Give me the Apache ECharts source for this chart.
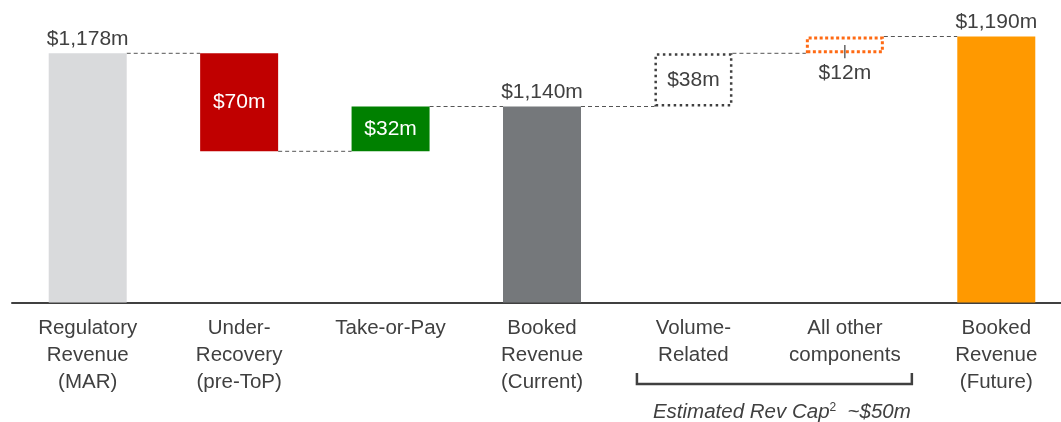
<!DOCTYPE html>
<html>
<head>
<meta charset="utf-8">
<script src="https://cdn.jsdelivr.net/npm/echarts@6/dist/echarts.min.js"></script>
<style>html,body{margin:0;padding:0;background:#fff}#c{width:1061px;height:422px}</style>
</head>
<body>
<div id="c"></div>
<script>
const categories = ['Regulatory\nRevenue\n(MAR)', 'Under-\nRecovery\n(pre-ToP)', 'Take-or-Pay', 'Booked\nRevenue\n(Current)', 'Volume-\nRelated', 'All other\ncomponents', 'Booked\nRevenue\n(Future)'];
const barValues = [1178, 70, 32, 1140, 38, 12, 1190];
const baseValues = [0, 1108, 1108, 0, 1140, 1178, 0];
const valueLabels = ['$1,178m', '$70m', '$32m', '$1,140m', '$38m', '$12m', '$1,190m'];
const connectorLevels = [1178, 1108, 1140, 1140, 1178, 1190];
const tickLine = [[5, 1184], [5, 1174.5]];
const bracketCats = [4, 5];
const bracketText = ['Estimated Rev Cap', '2', '  ~$50m'];

const FONT = '"Liberation Sans", Arial, sans-serif';
const TXT = '#404040';
const BARW = 78;

const styles = [
  { itemStyle: { color: '#D9DADC' }, label: { position: 'top', color: TXT, distance: 4 } },
  { itemStyle: { color: '#C00000' }, label: { position: 'inside', color: '#fff' } },
  { itemStyle: { color: '#008000' }, label: { position: 'inside', color: '#fff' } },
  { itemStyle: { color: '#75787B' }, label: { position: 'top', color: TXT, distance: 4 } },
  { itemStyle: { color: 'rgba(0,0,0,0)', borderColor: '#404040', borderWidth: 2.5, borderType: [2.5, 3.5] }, label: { position: 'inside', color: TXT } },
  { itemStyle: { color: 'rgba(0,0,0,0)', borderColor: '#FF6A13', borderWidth: 3, borderType: [3, 2.5] }, label: { position: 'bottom', color: TXT, distance: 9 } },
  { itemStyle: { color: '#FF9900' }, label: { position: 'top', color: TXT, distance: 4 } }
];

const chart = echarts.init(document.getElementById('c'), null, { renderer: 'canvas' });
chart.setOption({
  animation: false,
  textStyle: { fontFamily: FONT },
  grid: { left: 12, width: 1060, top: 22.5, bottom: 119.5, containLabel: false, outerBoundsMode: 'none' },
  xAxis: {
    type: 'category',
    data: categories,
    axisTick: { show: false },
    axisLine: { lineStyle: { color: '#404040', width: 2 } },
    axisLabel: { color: TXT, fontSize: 20.5, lineHeight: 27, margin: 12, fontFamily: FONT, interval: 0 }
  },
  yAxis: { type: 'value', min: 1000, max: 1200, show: false, splitLine: { show: false } },
  series: [
    {
      type: 'bar', stack: 'w', barWidth: BARW, silent: true,
      itemStyle: { color: 'rgba(0,0,0,0)' },
      data: baseValues
    },
    {
      type: 'bar', stack: 'w', barWidth: BARW,
      label: { show: true, fontSize: 21, fontFamily: FONT, formatter: p => valueLabels[p.dataIndex] },
      data: barValues.map((v, i) => ({
        value: v,
        itemStyle: styles[i].itemStyle,
        label: Object.assign({ show: true }, styles[i].label)
      }))
    },
    {
      type: 'custom',
      clip: false,
      data: connectorLevels.map((v, i) => [i, v]),
      encode: { x: 0, y: 1 },
      renderItem: function (params, api) {
        const i = api.value(0);
        const lvl = api.value(1);
        const p1 = api.coord([i, lvl]);
        const p2 = api.coord([i + 1, lvl]);
        return {
          type: 'line',
          shape: { x1: p1[0] + BARW / 2, y1: p1[1], x2: p2[0] - BARW / 2, y2: p2[1] },
          style: { stroke: '#555', lineWidth: 1, lineDash: [4, 3] }
        };
      }
    },
    {
      type: 'line',
      data: tickLine,
      symbol: 'none',
      lineStyle: { color: '#404040', width: 1.2 },
      z: 5
    },
    {
      type: 'custom',
      clip: false,
      data: [[bracketCats[0], bracketCats[1]]],
      renderItem: function (params, api) {
        const a = api.coord([api.value(0), 1000]);
        const b = api.coord([api.value(1), 1000]);
        const x1 = a[0] - 56.5, x2 = b[0] + 67;
        const yb = a[1] + 81.5, yt = a[1] + 70.5;
        return {
          type: 'group',
          children: [
            {
              type: 'polyline',
              shape: { points: [[x1, yt], [x1, yb], [x2, yb], [x2, yt]] },
              style: { stroke: '#404040', lineWidth: 2.5, fill: null }
            },
            {
              type: 'text',
              x: x1 + 16, y: a[1] + 109.5,
              style: {
                text: '{a|' + bracketText[0] + '}{s|' + bracketText[1] + '}{a|' + bracketText[2] + '}',
                align: 'left', verticalAlign: 'middle',
                rich: {
                  a: { fontSize: 20.5, fontStyle: 'italic', fontFamily: FONT, fill: TXT, color: TXT },
                  s: { fontSize: 12, fontFamily: FONT, fill: TXT, color: TXT, padding: [0, 0, 9, 0] }
                }
              }
            }
          ]
        };
      }
    }
  ]
});
</script>
</body>
</html>
